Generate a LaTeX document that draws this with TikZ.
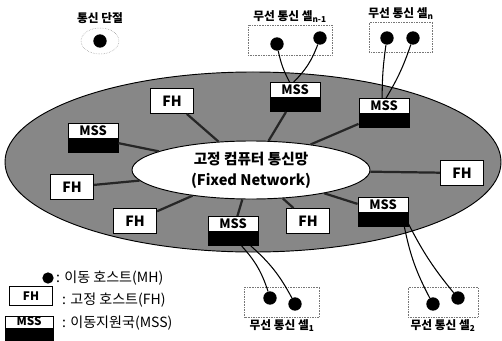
\documentclass[tikz,border=0pt]{standalone}
\usepackage{fontspec}
\setmainfont{Noto Sans CJK KR}
\usepackage{tikz}
\usetikzlibrary{shapes.geometric,positioning}
\definecolor{netGray}{HTML}{878787}
\definecolor{cellGray}{HTML}{777777}
\tikzset{
  fhBox/.style={draw, thick, fill=white, minimum width=13mm, minimum height=7.5mm, inner sep=0pt, font=\bfseries\fontsize{12}{12}\selectfont},
  mssBox/.style={draw, thick, fill=white, minimum width=15mm, minimum height=8.7mm, inner sep=0pt,
    text height=8.7pt, text depth=13.8pt, font=\bfseries\fontsize{11}{11}\selectfont,
    path picture={\fill[black] (path picture bounding box.south west) rectangle (path picture bounding box.east);}},
  mhDot/.style={circle, fill=black, minimum size=4mm, inner sep=0pt},
  netBox/.style={ellipse, draw, thick, fill=white, minimum width=71.4mm, minimum height=17.4mm, inner sep=0pt, align=center, font=\bfseries\fontsize{12.5}{18}\selectfont},
  cellBox/.style={draw=cellGray, densely dotted, minimum height=9mm, inner sep=0pt},
  cellLabel/.style={font=\bfseries\fontsize{10}{10}\selectfont, inner sep=1pt},
  legendText/.style={anchor=west, inner sep=0pt, font=\fontsize{12}{12}\selectfont},
  spoke/.style={line width=1.9pt, black!85},
  wire/.style={line width=0.9pt}
}

\begin{document}
\begin{tikzpicture}[x=0.3mm, y=-0.3mm]
\useasboundingbox (0,0) rectangle (502,340);
\filldraw[fill=netGray, draw=black, thick] (253,162) ellipse [x radius=74.4mm, y radius=27mm];
\node[netBox] (net) at (251,170) {고정 컴퓨터 통신망\\(Fixed Network)};

\node[fhBox] (fhTL) at (172,101) {FH};
\node[fhBox] (fhL) at (72,187) {FH};
\node[fhBox] (fhBL) at (135,221) {FH};
\node[fhBox] (fhB) at (308,221) {FH};
\node[fhBox] (fhR) at (462,173) {FH};
\node[mssBox] (mssL) at (93,138) {MSS};
\node[mssBox] (mssT) at (295,97) {MSS};
\node[mssBox] (mssTR) at (384,113) {MSS};
\node[mssBox] (mssB) at (233,231) {MSS};
\node[mssBox] (mssBR) at (383,212) {MSS};
\foreach \n in {fhTL,fhL,fhBL,fhB,fhR,mssL,mssT,mssTR,mssB,mssBR} {\draw[spoke] (\n) -- (net);}

\node[cellBox, minimum width=25.2mm] (cellN1) at (290,40) {};
\node[cellLabel, above=1pt of cellN1] (labN1) {무선 통신 셀\textsubscript{n-1}};
\node[cellBox, minimum width=19mm] (cellN) at (401,37) {};
\node[cellLabel, above=1pt of cellN] (labN) {무선 통신 셀\textsubscript{n}};
\node[cellBox, minimum width=22.5mm] (cellA) at (282,302) {};
\node[cellLabel, below=1pt of cellA] (labA) {무선 통신 셀\textsubscript{1}};
\node[cellBox, minimum width=21mm] (cellB) at (443,302) {};
\node[cellLabel, below=1pt of cellB] (labB) {무선 통신 셀\textsubscript{2}};

\node[mhDot] (mhN1a) at (277,44) {};
\node[mhDot] (mhN1b) at (320,38) {};
\node[mhDot] (mhNa) at (387,38) {};
\node[mhDot] (mhNb) at (413,38) {};
\node[mhDot] (mhAa) at (270,298) {};
\node[mhDot] (mhAb) at (295,304) {};
\node[mhDot] (mhBa) at (433,304) {};
\node[mhDot] (mhBb) at (458,298) {};

\draw[wire] (mhN1a) to[bend right=8] (mssT.110);
\draw[wire] (mhN1b) to[bend left=12] (mssT.95);
\draw[wire] (mhNa) to[bend right=4] (mssTR.97);
\draw[wire] (mhNb) to[bend left=6] (mssTR.82);
\draw[wire] (mssB.-60) to[bend left=12] (mhAa);
\draw[wire] (mssB.-40) to[bend left=10] (mhAb);
\draw[wire] (mssBR.-35) to[bend right=8] (mhBa);
\draw[wire] (mssBR.-25) to[bend right=6] (mhBb);

\node[mhDot] (mhOff) at (100,41) {};
\node[ellipse, draw=cellGray, densely dotted, minimum width=11.4mm, minimum height=7.8mm] (offCell) at (100,41) {};
\node[cellLabel, above=2pt of offCell] (labOff) {통신 단절};

\node[mhDot, minimum size=3.4mm] (legMH) at (48,278) {};
\node[legendText] (legMHtxt) at (56,278) {: 이동 호스트(MH)};
\node[fhBox, minimum width=12.9mm, minimum height=5.7mm, font=\bfseries\fontsize{10}{10}\selectfont] (legFH) at (31,296) {FH};
\node[legendText] (legFHtxt) at (62,300) {: 고정 호스트(FH)};
\node[mssBox, minimum width=14.4mm, minimum height=7.2mm, text height=7.4pt, text depth=11pt, font=\bfseries\fontsize{10}{10}\selectfont] (legMSS) at (29,328) {MSS};
\node[legendText] (legMSStxt) at (62,323) {: 이동지원국(MSS)};
\end{tikzpicture}
\end{document}
